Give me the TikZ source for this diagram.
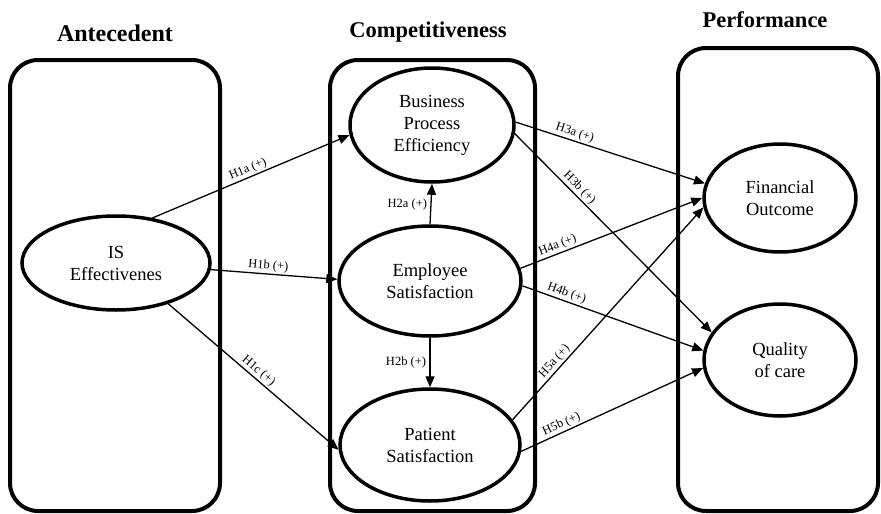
\documentclass[tikz,border=0pt]{standalone}
\usepackage{fontspec}
\setmainfont{Liberation Serif}
\usetikzlibrary{arrows.meta, shapes.geometric}

\begin{document}
\begin{tikzpicture}[x=1pt, y=-1pt,
    construct/.style={ellipse, draw, line width=3.5pt, align=center, inner sep=0pt,
        font=\fontsize{18.5}{22}\selectfont},
    panel/.style={draw, line width=4pt, rounded corners=28pt},
    heading/.style={font=\fontsize{22.5}{26}\selectfont\bfseries},
    hyp/.style={-{Triangle[length=11pt, width=9pt]}, line width=1.3pt},
    hlabel/.style={font=\fontsize{12.5}{14}\selectfont, sloped, above, inner sep=1.5pt}]
    \useasboundingbox (0,0) rectangle (881,514);

    % the three column panels
    \draw[panel] (10,60) rectangle (220,511);
    \draw[panel] (330,60) rectangle (535,511);
    \draw[panel] (678,48) rectangle (878,511);

    \node[heading, font=\fontsize{24}{28}\selectfont\bfseries] (antec) at (115,33) {Antecedent};
    \node[heading] (compet) at (428,32) {Competitiveness};
    \node[heading] (perf) at (765,20) {Performance};

    % constructs
    \node[construct, minimum width=188pt, minimum height=94pt] (is) at (116,263) {IS\\Effectivenes};
    \node[construct, minimum width=164pt, minimum height=114pt] (bpe) at (432,125) {Business\\Process\\Efficiency};
    \node[construct, minimum width=182pt, minimum height=110pt] (emp) at (430,281) {Employee\\Satisfaction};
    \node[construct, minimum width=180pt, minimum height=112pt] (pat) at (430,445) {Patient\\Satisfaction};
    \node[construct, minimum width=152pt, minimum height=108pt] (fin) at (780,198) {Financial\\Outcome};
    \node[construct, minimum width=152pt, minimum height=112pt] (qoc) at (780,360) {Quality\\of care};

    % hypotheses
    \draw[hyp] (is.51) -- node[hlabel, pos=0.5] {H1a (+)} (bpe.187);
    \draw[hyp] (is.-4) -- node[hlabel, pos=0.45] {H1b (+)} (emp.179);
    \draw[hyp] (is.-38) -- node[hlabel, pos=0.5] {H1c (+)} (pat.183);
    \draw[hyp] (emp.north) -- node[left, font=\fontsize{12.5}{14}\selectfont] {H2a (+)} (bpe.south);
    \draw[hyp] (emp.south) -- node[left, font=\fontsize{12.5}{14}\selectfont] {H2b (+)} (pat.north);
    \draw[hyp] (bpe.2) -- node[hlabel, pos=0.3] {H3a (+)} (fin.169);
    \draw[hyp] (bpe.-6) -- node[hlabel, pos=0.3] {H3b (+)} (qoc.158);
    \draw[hyp] (emp.8) -- node[hlabel, pos=0.22] {H4a (+)} (fin.180);
    \draw[hyp] (emp.-3) -- node[hlabel, pos=0.23] {H4b (+)} (qoc.173);
    \draw[hyp] (pat.17) -- node[hlabel, pos=0.25] {H5a (+)} (fin.187);
    \draw[hyp] (pat.-4) -- node[hlabel, pos=0.24] {H5b (+)} (qoc.186);
\end{tikzpicture}
\end{document}
